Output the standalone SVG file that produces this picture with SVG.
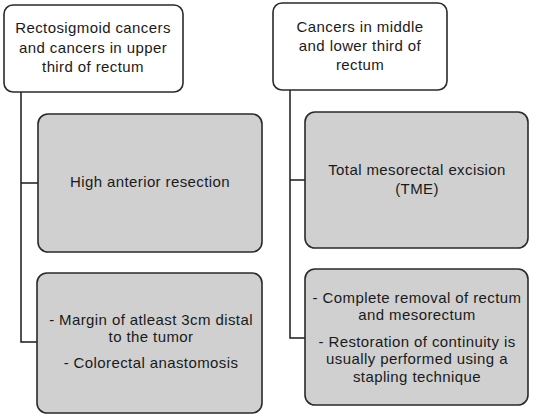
<svg xmlns="http://www.w3.org/2000/svg" width="540" height="417" viewBox="0 0 540 417">
<style>
.top{fill:#ffffff;stroke:#2a2a2a;stroke-width:1.6}
.sub{fill:#d0d0d0;stroke:#2a2a2a;stroke-width:1.6}
.t{font-family:"Liberation Sans",Arial,sans-serif;font-size:15px;letter-spacing:0.4px;fill:#1a1a1a;text-anchor:middle}
.c{fill:none;stroke:#1a1a1a;stroke-width:1.5}
</style>
<rect width="540" height="417" fill="#ffffff"/>
<g id="connectors">
<path class="c" d="M21 92 V342 H37"/>
<path class="c" d="M21 183 H38"/>
<path class="c" d="M290 90 V338 H305"/>
<path class="c" d="M290 180 H305"/>
</g>
<g id="left-top">
<rect class="top" x="4" y="5" width="179" height="87" rx="9"/>
<text class="t" x="93" y="33">Rectosigmoid cancers</text>
<text class="t" x="93" y="53">and cancers in upper</text>
<text class="t" x="93" y="72">third of rectum</text>
</g>
<g id="right-top">
<rect class="top" x="273" y="3" width="174" height="87" rx="9"/>
<text class="t" x="360" y="32">Cancers in middle</text>
<text class="t" x="360" y="51">and lower third of</text>
<text class="t" x="360" y="70">rectum</text>
</g>
<g id="left-mid">
<rect class="sub" x="38" y="114" width="224" height="138" rx="10"/>
<text class="t" x="150" y="187">High anterior resection</text>
</g>
<g id="right-mid">
<rect class="sub" x="305" y="112" width="223" height="136" rx="10"/>
<text class="t" x="417" y="175">Total mesorectal excision</text>
<text class="t" x="417" y="194">(TME)</text>
</g>
<g id="left-bottom">
<rect class="sub" x="37" y="273" width="225" height="140" rx="10"/>
<text class="t" x="151" y="325">- Margin of atleast 3cm distal</text>
<text class="t" x="151" y="342">to the tumor</text>
<text class="t" x="151" y="368">- Colorectal anastomosis</text>
</g>
<g id="right-bottom">
<rect class="sub" x="305" y="269" width="223" height="136" rx="10"/>
<text class="t" x="417" y="303">- Complete removal of rectum</text>
<text class="t" x="417" y="320">and mesorectum</text>
<text class="t" x="417" y="347">- Restoration of continuity is</text>
<text class="t" x="417" y="364">usually performed using a</text>
<text class="t" x="417" y="382">stapling technique</text>
</g>
</svg>
